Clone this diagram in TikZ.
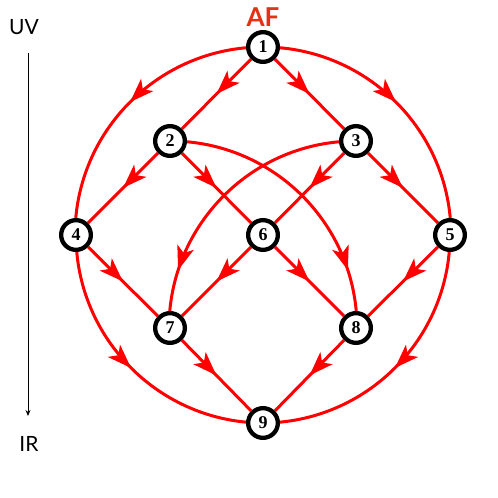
\documentclass[tikz,border=0pt]{standalone}
\usepackage{fontspec}
\setmainfont{Liberation Serif}
\newfontfamily\gill{Lato}
\usetikzlibrary{arrows.meta,decorations.markings,backgrounds}
\definecolor{afred}{RGB}{226,50,20}
\begin{document}
\begin{tikzpicture}[x=1pt,y=-1pt,
  nd/.style={circle,draw=black,line width=4.3pt,fill=white,minimum size=29.7pt,inner sep=0pt,
    font=\fontsize{18}{18}\selectfont\bfseries},
  ed/.style={red,line width=3pt,postaction={decorate},
    decoration={markings,mark=at position #1 with {\arrow{Stealth[length=24pt,width=17pt,inset=6pt]}}}},
  ed/.default=0.5,
  lbl/.style={font=\gill\fontsize{21}{21}\selectfont,inner sep=0pt}]
\useasboundingbox (0,0) rectangle (498,498);
\node[nd] (n1) at (263,47) {1};
\node[nd] (n2) at (170,141) {2};
\node[nd] (n3) at (356,141) {3};
\node[nd] (n4) at (76,235) {4};
\node[nd] (n6) at (263,235) {6};
\node[nd] (n5) at (450,235) {5};
\node[nd] (n7) at (170,328) {7};
\node[nd] (n8) at (356,328) {8};
\node[nd] (n9) at (263,423) {9};
\node[font=\gill\bfseries\fontsize{26}{26}\selectfont,text=afred,inner sep=0pt] (af) at (263,17) {AF};
\node[lbl] (uv) at (24,27) {UV};
\node[lbl] (ir) at (29,444) {IR};
\coordinate (uvtop) at (28,53);
\coordinate (irbot) at (28,416);
\draw[line width=0.8pt,-{Stealth[length=6pt,width=5pt]}] (uvtop) -- (irbot);
\begin{pgfonlayer}{background}
  \draw[ed] (n1.center) arc[start angle=90,end angle=180,radius=188pt];
  \draw[ed] (n1.center) arc[start angle=90,end angle=0,radius=188pt];
  \draw[ed] (n4.center) arc[start angle=180,end angle=270,radius=188pt];
  \draw[ed] (n5.center) arc[start angle=0,end angle=-90,radius=188pt];
  \draw[ed=0.8] (n2.center) arc[start angle=90,end angle=0,radius=187pt];
  \draw[ed=0.8] (n3.center) arc[start angle=90,end angle=180,radius=187pt];
  \draw[ed] (n1) -- (n2);
  \draw[ed] (n1) -- (n3);
  \draw[ed] (n2) -- (n4);
  \draw[ed] (n2) -- (n6);
  \draw[ed] (n3) -- (n6);
  \draw[ed] (n3) -- (n5);
  \draw[ed] (n4) -- (n7);
  \draw[ed] (n6) -- (n7);
  \draw[ed] (n6) -- (n8);
  \draw[ed] (n5) -- (n8);
  \draw[ed] (n7) -- (n9);
  \draw[ed] (n8) -- (n9);
\end{pgfonlayer}
\end{tikzpicture}
\end{document}
